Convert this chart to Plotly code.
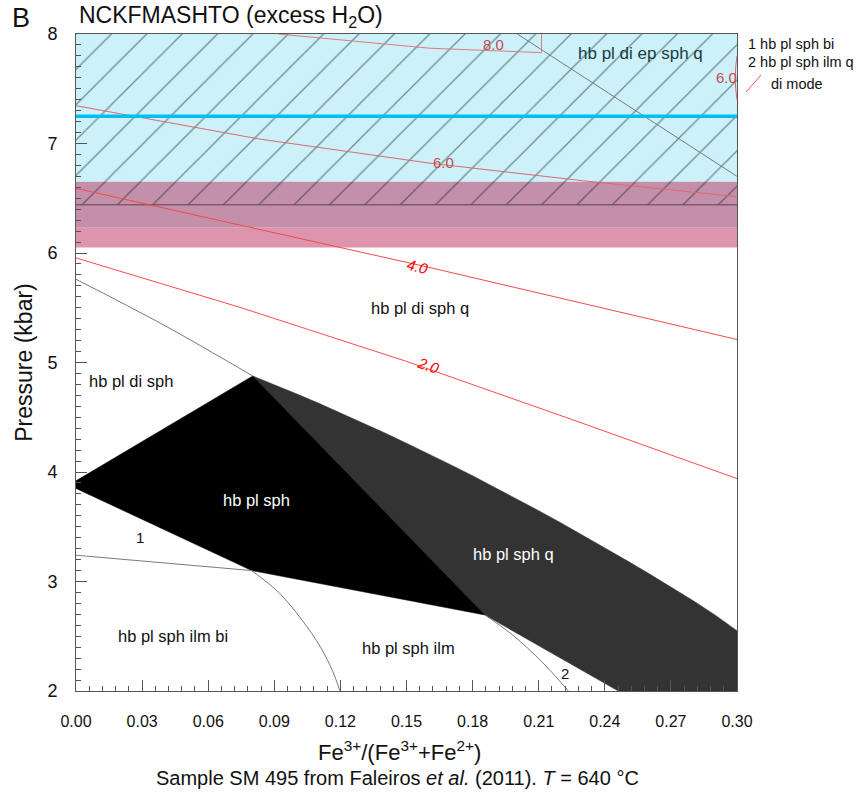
import plotly.graph_objects as go

FONT = "Liberation Sans, Arial, sans-serif"

# ---------------- data ----------------
# horizontal bands (pressure, kbar)
cyan_band = [6.65, 8.0]
mauve_band = [6.23, 6.65]
pink_band = [6.05, 6.23]
hatch_band = [6.44, 8.0]
cyan_line_P = 7.25

# field polygons (Fe3+/(Fe3++Fe2+), P)
black_x = [0.0, 0.0802, 0.1856, 0.0797, 0.0]
black_y = [3.92, 4.877, 2.694, 3.10, 3.85]

grey_top_x = [0.0802, 0.09, 0.10, 0.11, 0.12, 0.13, 0.14, 0.15, 0.16, 0.17, 0.18,
              0.19, 0.20, 0.21, 0.22, 0.23, 0.24, 0.25, 0.26, 0.27, 0.28, 0.29, 0.30]
grey_top_y = [4.877, 4.798, 4.715, 4.629, 4.541, 4.450, 4.358, 4.263, 4.167, 4.067, 3.966,
              3.862, 3.756, 3.647, 3.537, 3.424, 3.309, 3.191, 3.072, 2.949, 2.826, 2.695, 2.55]
grey_rest_x = [0.30, 0.2461, 0.1856, 0.0802]
grey_rest_y = [2.0, 2.0, 2.694, 4.877]

# thin reaction boundaries
di_out_x = [0.0, 0.04, 0.0802]
di_out_y = [5.76, 5.34, 4.877]
bi_out_x = [0.0, 0.0797]
bi_out_y = [3.24, 3.10]
ilm_x = [0.0797, 0.092, 0.1025, 0.111, 0.1165, 0.1198]
ilm_y = [3.10, 2.90, 2.65, 2.40, 2.18, 2.0]
q_x = [0.1856, 0.197, 0.2075, 0.216, 0.2234]
q_y = [2.694, 2.53, 2.344, 2.17, 2.0]
ep_x = [0.2003, 0.30]
ep_y = [8.0, 6.70]

# di mode isopleths
iso8_x = [0.0917, 0.1607, 0.2113, 0.2113]
iso8_y = [8.0, 7.87, 7.83, 8.0]
iso6_x = [0.0, 0.0835, 0.1607, 0.23, 0.30]
iso6_y = [7.345, 7.04, 6.82, 6.66, 6.514]
iso6b_x = [0.30, 0.2994, 0.2992, 0.2994, 0.30]
iso6b_y = [7.80, 7.70, 7.60, 7.50, 7.40]
iso4_x = [0.0, 0.0835, 0.16, 0.23, 0.30]
iso4_y = [6.59, 6.215, 5.87, 5.54, 5.21]
iso2_x = [0.0, 0.075, 0.15, 0.225, 0.30]
iso2_y = [5.955, 5.50, 5.01, 4.48, 3.94]

iso_labels = ["8.0", "6.0", "6.0", "4.0", "2.0"]
iso_label_x = [0.1893, 0.1667, 0.2953, 0.155, 0.160]
iso_label_y = [7.906, 6.83, 7.60, 5.88, 4.97]

field_labels = ["hb pl di ep sph q", "hb pl di sph q", "hb pl di sph", "hb pl sph",
                "hb pl sph q", "1", "hb pl sph ilm bi", "hb pl sph ilm", "2"]
field_x = [0.256, 0.1561, 0.025, 0.0821, 0.1985, 0.029, 0.044, 0.1507, 0.2219]
field_y = [7.82, 5.498, 4.83, 3.744, 3.25, 3.406, 2.502, 2.393, 2.164]

x_ticks = [0.00, 0.03, 0.06, 0.09, 0.12, 0.15, 0.18, 0.21, 0.24, 0.27, 0.30]
y_ticks = [2, 3, 4, 5, 6, 7, 8]
x_range = [0.0, 0.30]
y_range = [2.0, 8.0]

# ---------------- figure ----------------
fig = go.Figure()


def band(b, color):
    fig.add_trace(go.Scatter(
        x=[x_range[0], x_range[1], x_range[1], x_range[0]],
        y=[b[0], b[0], b[1], b[1]],
        fill="toself", fillcolor=color, mode="none", hoverinfo="skip"))


band(cyan_band, "#ccf1f9")
band(mauve_band, "#c48fa9")
band(pink_band, "#dc95ad")

# hatching
fig.add_trace(go.Scatter(
    x=[x_range[0], x_range[1], x_range[1], x_range[0]],
    y=[hatch_band[0], hatch_band[0], hatch_band[1], hatch_band[1]],
    fill="toself", fillcolor="rgba(0,0,0,0)", mode="none", hoverinfo="skip",
    fillpattern=dict(shape="/", size=25, solidity=0.05, fgcolor="#0f2226",
                     bgcolor="rgba(0,0,0,0)")))
fig.add_trace(go.Scatter(x=x_range, y=[hatch_band[0]] * 2, mode="lines",
                         line=dict(color="#5e4254", width=1), hoverinfo="skip"))

# fields
fig.add_trace(go.Scatter(x=grey_top_x + grey_rest_x, y=grey_top_y + grey_rest_y,
                         fill="toself", fillcolor="#333333", mode="lines",
                         line=dict(color="#333333", width=0.5), hoverinfo="skip"))
fig.add_trace(go.Scatter(x=black_x, y=black_y, fill="toself", fillcolor="#000000",
                         mode="lines", line=dict(color="#000000", width=0.5),
                         hoverinfo="skip"))

# thin boundaries
for bx, by in [(di_out_x, di_out_y), (bi_out_x, bi_out_y), (ilm_x, ilm_y),
               (q_x, q_y), (ep_x, ep_y)]:
    fig.add_trace(go.Scatter(x=bx, y=by, mode="lines", hoverinfo="skip",
                             line=dict(color="#7a7a7a", width=1, shape="spline")))

# isopleths
for ix, iy, col in [(iso8_x, iso8_y, "#e07a82"), (iso6_x, iso6_y, "#e06870"),
                    (iso6b_x, iso6b_y, "#e06870"), (iso4_x, iso4_y, "#f04a4a"),
                    (iso2_x, iso2_y, "#ff4a4a")]:
    fig.add_trace(go.Scatter(x=ix, y=iy, mode="lines", hoverinfo="skip",
                             line=dict(color=col, width=1)))

# thick cyan line
fig.add_trace(go.Scatter(x=x_range, y=[cyan_line_P] * 2, mode="lines",
                         line=dict(color="#00bff2", width=3.5), hoverinfo="skip"))

ann = []
iso_styles = [("#c84a52", 0, False), ("#c84a52", 0, False), ("#c84a52", 0, False),
              ("#ff0000", 14, True), ("#ff0000", 19, True)]
for t, x, y, (c, a, it) in zip(iso_labels, iso_label_x, iso_label_y, iso_styles):
    ann.append(dict(x=x, y=y, xref="x", yref="y", text=f"<i>{t}</i>" if it else t,
                    showarrow=False, textangle=a,
                    font=dict(family=FONT, size=15, color=c)))

field_colors = ["#1e3a40", "#111", "#111", "white", "white", "#111", "#111", "#111", "#111"]
field_sizes = [17, 16.5, 16.5, 16.5, 16.5, 15, 16.5, 16.5, 15]
for t, x, y, c, s in zip(field_labels, field_x, field_y, field_colors, field_sizes):
    ann.append(dict(x=x, y=y, xref="x", yref="y", text=t, showarrow=False,
                    font=dict(family=FONT, size=s, color=c)))

W, H = 858, 793
L, R, T, B = 76, 121, 34, 102
pw, ph = W - L - R, H - T - B


def px(xp):
    return (xp - L) / pw


def py(yp):
    return (H - B - yp) / ph


ann += [
    dict(x=px(21), y=py(18), xref="paper", yref="paper", text="B", showarrow=False,
         font=dict(family=FONT, size=27, color="#111"), xanchor="center", yanchor="middle"),
    dict(x=px(77), y=py(17), xref="paper", yref="paper",
         text="NCKFMASHTO (excess H<sub>2</sub>O)", showarrow=False,
         font=dict(family=FONT, size=23, color="#111"), xanchor="left", yanchor="middle"),
    dict(x=px(746), y=py(44), xref="paper", yref="paper", text="1 hb pl sph bi",
         showarrow=False, font=dict(family=FONT, size=14.5, color="#111"),
         xanchor="left", yanchor="middle"),
    dict(x=px(746), y=py(62), xref="paper", yref="paper", text="2 hb pl sph ilm q",
         showarrow=False, font=dict(family=FONT, size=14.5, color="#111"),
         xanchor="left", yanchor="middle"),
    dict(x=px(769), y=py(84), xref="paper", yref="paper", text="di mode",
         showarrow=False, font=dict(family=FONT, size=14.5, color="#111"),
         xanchor="left", yanchor="middle"),
    dict(x=px(399), y=py(751), xref="paper", yref="paper",
         text="Fe<sup>3+</sup>/(Fe<sup>3+</sup>+Fe<sup>2+</sup>)", showarrow=False,
         font=dict(family=FONT, size=22, color="#111"), xanchor="center", yanchor="middle"),
    dict(x=px(397), y=py(778), xref="paper", yref="paper",
         text="Sample SM 495 from Faleiros <i>et al.</i> (2011). <i>T</i> = 640 °C",
         showarrow=False, font=dict(family=FONT, size=20, color="#111"),
         xanchor="center", yanchor="middle"),
]

shapes = [dict(type="line", xref="paper", yref="paper", x0=px(746), y0=py(92),
               x1=px(761), y1=py(75), line=dict(color="#ff5050", width=1))]

axis_common = dict(showline=True, mirror=True, linecolor="#555", linewidth=1,
                   ticks="inside", tickcolor="#555", showgrid=False, zeroline=False,
                   layer="above traces")

fig.update_layout(
    width=W, height=H, margin=dict(l=L, r=R, t=T, b=B),
    paper_bgcolor="white", plot_bgcolor="white", showlegend=False,
    xaxis=dict(range=x_range, tickvals=x_ticks, tickformat=".2f", ticklen=11,
               minor=dict(ticks="inside", ticklen=5, dtick=0.006, tick0=0, tickcolor="#555"),
               tickfont=dict(family=FONT, size=16, color="#111"), ticklabelstandoff=16,
               **axis_common),
    yaxis=dict(range=y_range, tickvals=y_ticks, ticklen=11,
               minor=dict(ticks="inside", ticklen=5, dtick=0.1, tick0=0, tickcolor="#555"),
               tickfont=dict(family=FONT, size=18, color="#111"), ticklabelstandoff=14,
               title=dict(text="Pressure (kbar)", font=dict(family=FONT, size=23, color="#111"),
                          standoff=8),
               **axis_common),
    annotations=ann, shapes=shapes,
)

fig.write_html("out.html")
